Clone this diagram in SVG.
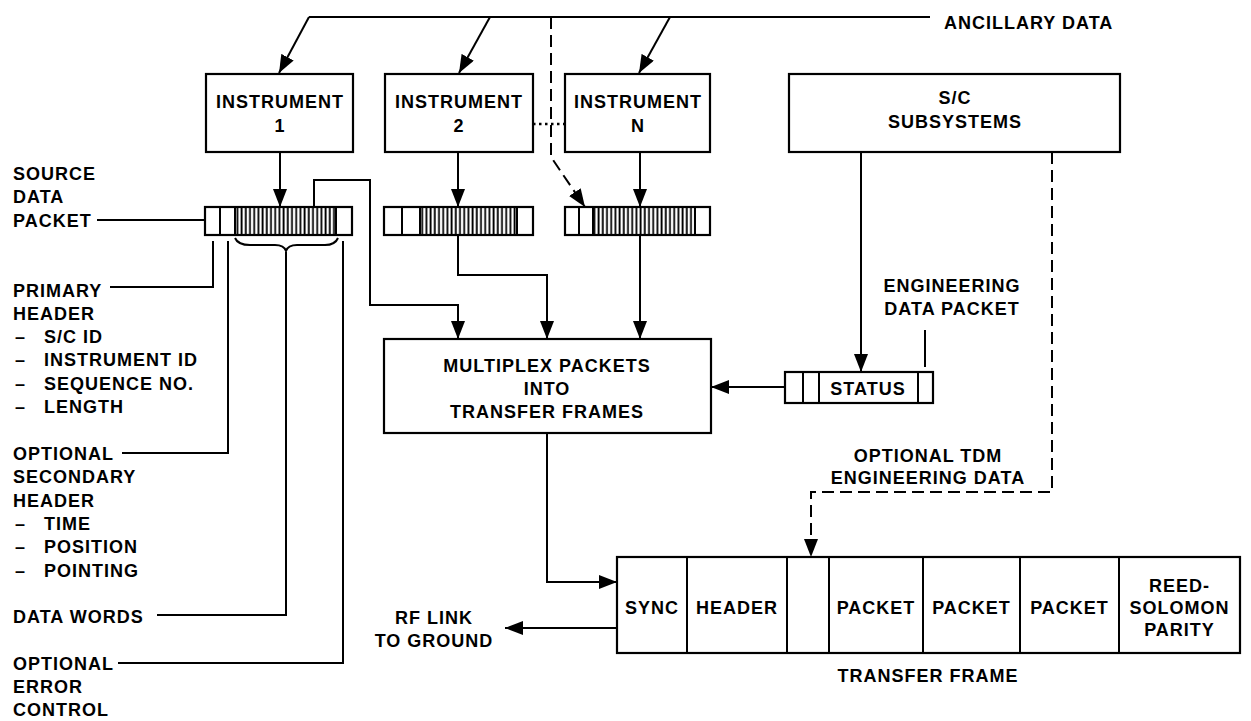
<svg xmlns="http://www.w3.org/2000/svg" width="1251" height="721" viewBox="0 0 1251 721">
<defs>
<marker id="ah" markerUnits="userSpaceOnUse" markerWidth="18" markerHeight="14" refX="18" refY="7" orient="auto">
<path d="M0,0 L18,7 L0,14 z" fill="#000"/>
</marker>
<pattern id="hatch" patternUnits="userSpaceOnUse" width="4.2" height="10">
<rect x="1.3" y="0" width="1.8" height="10" fill="#000"/>
</pattern>
</defs>
<style>
text{font-family:"Liberation Sans",Arial,sans-serif;font-weight:bold;font-size:18px;letter-spacing:1px;fill:#000}
.c{text-anchor:middle}
.box{fill:#fff;stroke:#000;stroke-width:2.2}
.ln{fill:none;stroke:#000;stroke-width:2}
.dash{fill:none;stroke:#000;stroke-width:2;stroke-dasharray:12 6}
.arr{marker-end:url(#ah)}
</style>
<rect width="1251" height="721" fill="#fff"/>

<g id="connectors">
<path class="ln" d="M309,17 H930"/>
<path class="ln arr" d="M309,17 L279,73"/>
<path class="ln arr" d="M490,17 L459,73"/>
<path class="ln arr" d="M670,17 L639,73"/>
<path class="dash arr" d="M551,17 V157 L585,207"/>
<path class="ln" d="M533,124 H565" style="stroke-dasharray:2.5 3.5;stroke-width:2.5"/>
<path class="ln arr" d="M280,152 V207"/>
<path class="ln arr" d="M458,152 V207"/>
<path class="ln arr" d="M640,152 V207"/>
<path class="ln arr" d="M314,207 V180 H370 V305 H458 V339"/>
<path class="ln arr" d="M458,235 V275 H547 V339"/>
<path class="ln arr" d="M640,235 V339"/>
<path class="ln arr" d="M861,152 V372"/>
<path class="ln arr" d="M785,387 H711"/>
<path class="ln arr" d="M547,433 V582 H617"/>
<path class="ln arr" d="M617,628 H505"/>
<path class="dash arr" d="M1052,152 V492 H811 V557"/>
<path class="ln" d="M925,330 V367"/>
<path class="ln" d="M97,220 H204"/>
<path class="ln" d="M110,287 H213 V241"/>
<path class="ln" d="M122,453 H228 V241"/>
<path class="ln" d="M157,615 H286 V252"/>
<path class="ln" d="M118,663 H343 V241"/>
<path class="ln" d="M235,238 Q238,245 250,245 L275,245 Q284,245 286,251 Q288,245 297,245 L325,245 Q335,245 338,238"/>
</g>

<g id="ancillary-data">
<text x="944" y="29">ANCILLARY DATA</text>
</g>

<g id="instrument-1">
<rect class="box" x="206" y="74" width="147" height="78"/>
<text class="c" x="280" y="108">INSTRUMENT</text>
<text class="c" x="280" y="132">1</text>
</g>
<g id="instrument-2">
<rect class="box" x="385" y="74" width="148" height="78"/>
<text class="c" x="459" y="108">INSTRUMENT</text>
<text class="c" x="459" y="132">2</text>
</g>
<g id="instrument-n">
<rect class="box" x="565" y="74" width="145" height="78"/>
<text class="c" x="638" y="108">INSTRUMENT</text>
<text class="c" x="638" y="132">N</text>
</g>
<g id="sc-subsystems">
<rect class="box" x="789" y="74" width="331" height="78"/>
<text class="c" x="955" y="104">S/C</text>
<text class="c" x="955" y="128">SUBSYSTEMS</text>
</g>

<g id="packet-1">
<rect class="box" x="205" y="207" width="147" height="28"/>
<rect x="235" y="208" width="101" height="26" fill="url(#hatch)"/>
<path class="ln" d="M220,207 V235 M235,207 V235 M336,207 V235"/>
</g>
<g id="packet-2">
<rect class="box" x="384" y="207" width="149" height="28"/>
<rect x="420" y="208" width="97" height="26" fill="url(#hatch)"/>
<path class="ln" d="M402,207 V235 M420,207 V235 M517,207 V235"/>
</g>
<g id="packet-n">
<rect class="box" x="565" y="207" width="145" height="28"/>
<rect x="593" y="208" width="102" height="26" fill="url(#hatch)"/>
<path class="ln" d="M579,207 V235 M593,207 V235 M695,207 V235"/>
</g>

<g id="multiplex">
<rect class="box" x="384" y="339" width="327" height="94"/>
<text class="c" x="547" y="372">MULTIPLEX PACKETS</text>
<text class="c" x="547" y="395">INTO</text>
<text class="c" x="547" y="418">TRANSFER FRAMES</text>
</g>

<g id="engineering-packet">
<rect class="box" x="785" y="372" width="148" height="31"/>
<path class="ln" d="M803,372 V403 M819,372 V403 M918,372 V403"/>
<text class="c" x="868" y="395">STATUS</text>
<text class="c" x="952" y="292">ENGINEERING</text>
<text class="c" x="952" y="315">DATA PACKET</text>
</g>

<g id="optional-tdm">
<text class="c" x="928" y="462">OPTIONAL TDM</text>
<text class="c" x="928" y="484">ENGINEERING DATA</text>
</g>

<g id="transfer-frame">
<rect class="box" x="617" y="557" width="623" height="96"/>
<path class="ln" d="M687,557 V653 M787,557 V653 M829,557 V653 M923,557 V653 M1020,557 V653 M1119,557 V653"/>
<text class="c" x="652" y="614">SYNC</text>
<text class="c" x="737" y="614">HEADER</text>
<text class="c" x="876" y="614">PACKET</text>
<text class="c" x="971.5" y="614">PACKET</text>
<text class="c" x="1069.5" y="614">PACKET</text>
<text class="c" x="1179.5" y="592">REED-</text>
<text class="c" x="1179.5" y="614">SOLOMON</text>
<text class="c" x="1179.5" y="636">PARITY</text>
<text class="c" x="928" y="682">TRANSFER FRAME</text>
</g>

<g id="rf-link">
<text class="c" x="434" y="624">RF LINK</text>
<text class="c" x="434" y="647">TO GROUND</text>
</g>

<g id="source-data-packet-label">
<text x="13" y="180">SOURCE</text>
<text x="13" y="203">DATA</text>
<text x="13" y="227">PACKET</text>
</g>
<g id="primary-header-label">
<text x="13" y="297">PRIMARY</text>
<text x="13" y="320">HEADER</text>
<text x="15" y="343">–</text><text x="44" y="343">S/C ID</text>
<text x="15" y="366">–</text><text x="44" y="366">INSTRUMENT ID</text>
<text x="15" y="390">–</text><text x="44" y="390">SEQUENCE NO.</text>
<text x="15" y="413">–</text><text x="44" y="413">LENGTH</text>
</g>
<g id="secondary-header-label">
<text x="13" y="460">OPTIONAL</text>
<text x="13" y="483">SECONDARY</text>
<text x="13" y="507">HEADER</text>
<text x="15" y="530">–</text><text x="44" y="530">TIME</text>
<text x="15" y="553">–</text><text x="44" y="553">POSITION</text>
<text x="15" y="577">–</text><text x="44" y="577">POINTING</text>
</g>
<g id="data-words-label">
<text x="13" y="623">DATA WORDS</text>
</g>
<g id="error-control-label">
<text x="13" y="670">OPTIONAL</text>
<text x="13" y="693">ERROR</text>
<text x="13" y="716">CONTROL</text>
</g>
</svg>
